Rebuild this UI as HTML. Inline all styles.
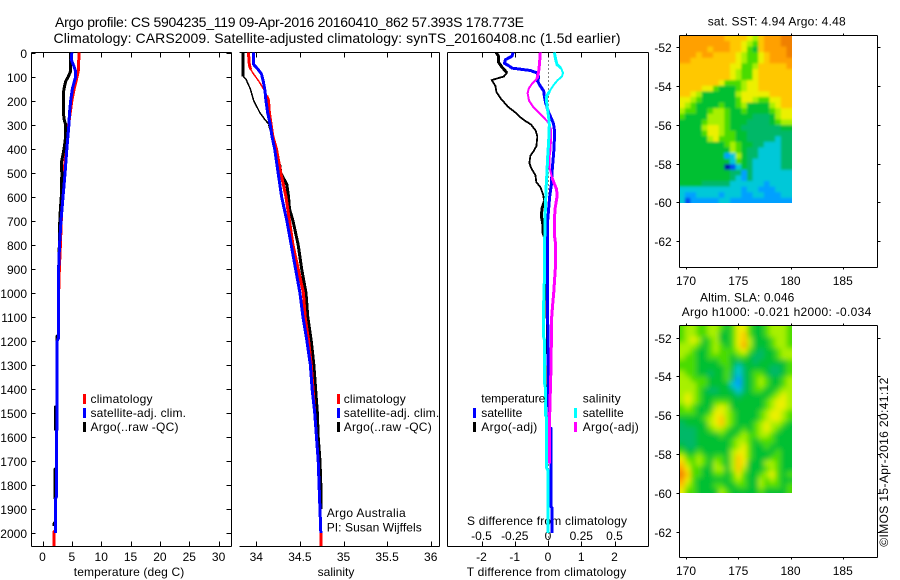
<!DOCTYPE html>
<html lang="en">
<head>
<meta charset="utf-8">
<title>Argo profile</title>
<style>
html,body{margin:0;padding:0;background:#fff}
svg{display:block}
text{font-family:"Liberation Sans",Arial,sans-serif;font-size:12px;fill:#000}
.ttl{font-size:14px}
</style>
</head>
<body>
<svg id="chart" width="900" height="580" viewBox="0 0 900 580" xmlns="http://www.w3.org/2000/svg">
<defs>
<clipPath id="clip-sst"><rect x="679.5" y="35.5" width="112.5" height="167.5"/></clipPath>
<clipPath id="clip-sla"><rect x="679.5" y="325.5" width="112.5" height="167.5"/></clipPath>
<filter id="blur-sst" filterUnits="userSpaceOnUse" x="650" y="10" width="170" height="220"><feGaussianBlur stdDeviation="1.2"/></filter>
<filter id="blur-sla" filterUnits="userSpaceOnUse" x="650" y="300" width="170" height="220"><feGaussianBlur stdDeviation="2.6"/></filter>
</defs>
<text class="ttl" x="55" y="27" textLength="469" lengthAdjust="spacing">Argo profile: CS 5904235_119 09-Apr-2016 20160410_862 57.393S 178.773E</text>
<text class="ttl" x="53.5" y="43" textLength="567" lengthAdjust="spacing">Climatology: CARS2009. Satellite-adjusted climatology: synTS_20160408.nc (1.5d earlier)</text>
<g id="layer"></g>
</svg>
<script>
// ---- depth axis ----
const depthTicks = [0,100,200,300,400,500,600,700,800,900,1000,1100,1200,1300,1400,1500,1600,1700,1800,1900,2000];
const tempTicks = [0,5,10,15,20,25,30];
const salTicks = [34,34.5,35,35.5,36];
const tDiffTicks = [-2,-1,0,1,2];
const sDiffTicks = [-0.5,-0.25,0,0.25,0.5];
const mapLonTicks = [170,175,180,185];
const mapLatTicks = [-52,-54,-56,-58,-60,-62];

// ---- temperature panel ----
const tempClimDepth = [0,70,100,150,200,300,400,450,500,600,700,800,900,1000,1190,1200,1570,1575,1850,1860,1990,1995,2054];
const tempClimValue = [6.2,6.15,5.9,5.4,5.0,4.45,4.1,3.85,3.67,3.4,3.2,3.05,2.87,2.75,2.7,2.5,2.5,2.35,2.35,2.2,2.2,2.0,2.0];
const tempArgoDepth = [0,80,100,120,150,170,250,280,300,350,400,430,460,480,500,600,650,740,800,900,1175,1180,1470,1475,1570,1575,1730,1735,1850,1860,1955,1960,1970];
const tempArgoValue = [4.75,4.75,4.4,3.95,3.67,3.55,3.55,3.7,3.95,3.95,3.67,3.45,3.2,3.2,3.3,3.2,3.05,2.87,2.87,2.75,2.7,2.5,2.5,2.25,2.25,2.35,2.35,2.1,2.1,2.2,2.2,2.0,2.0];
const tempSatDepth = [0,30,60,80,100,150,200,250,300,400,500,600,700,800,900,1000,1190,1200,1570,1575,1850,1860,2000];
const tempSatValue = [5.0,4.9,5.4,5.65,5.65,5.1,4.8,4.6,4.5,4.15,3.85,3.5,3.15,2.9,2.75,2.7,2.7,2.5,2.5,2.35,2.35,2.2,2.2];

// ---- salinity panel ----
const salClimDepth = [0,50,70,90,120,150,180,200,250,300,350,400,500,600,700,800,900,1000,1100,1200,1300,1400,1500,1600,1700,1800,1900,2000,2054];
const salClimValue = [33.91,33.92,33.935,33.97,34.03,34.08,34.12,34.14,34.15,34.17,34.19,34.23,34.28,34.34,34.38,34.42,34.48,34.54,34.56,34.6,34.63,34.65,34.67,34.69,34.71,34.72,34.73,34.74,34.74];
const salArgoDepth = [0,100,110,150,200,250,280,300,350,400,450,470,500,550,600,650,700,800,900,1000,1100,1200,1300,1400,1500,1600,1700,1800,1900];
const salArgoValue = [33.85,33.85,33.88,33.93,33.97,34.04,34.1,34.15,34.19,34.22,34.24,34.27,34.28,34.35,34.37,34.38,34.42,34.48,34.52,34.57,34.59,34.63,34.66,34.68,34.7,34.71,34.73,34.74,34.74];
const salSatDepth = [0,50,70,90,120,160,200,250,300,350,400,500,600,700,800,900,1000,1100,1200,1300,1400,1500,1600,1700,1800,1900,2000];
const salSatValue = [33.97,33.97,34.02,34.06,34.08,34.1,34.11,34.13,34.16,34.18,34.21,34.25,34.29,34.35,34.4,34.45,34.5,34.535,34.58,34.62,34.64,34.67,34.69,34.71,34.72,34.73,34.74];

// ---- difference panel: temperature differences (deg C) ----
const dTArgoDepth = [0,15,40,60,85,100,110,115,140,165,190,225,250,270,285,300,325,350,390,410,430,460,480,510,540,560,590,620,650,680,720,750,800,1050,1200,1400];
const dTArgoValue = [-1.56,-1.49,-1.49,-1.39,-1.23,-1.33,-1.58,-1.69,-1.58,-1.55,-1.43,-1.21,-0.98,-0.83,-0.68,-0.51,-0.37,-0.32,-0.35,-0.43,-0.53,-0.56,-0.51,-0.38,-0.35,-0.23,-0.15,-0.11,-0.18,-0.2,-0.15,-0.15,-0.02,-0.03,-0.01,0.0];
const dTSatDepth = [0,15,30,45,55,65,75,85,100,120,140,160,190,210,250,280,300,330,400,450,500,550,600,650,700,800,1000,1100,1560,1565,1890,1895,2000];
const dTSatValue = [-1.05,-1.08,-1.28,-1.31,-1.18,-1.08,-0.53,-0.33,-0.28,-0.31,-0.23,-0.13,-0.1,-0.07,0.02,0.12,0.17,0.2,0.18,0.15,0.12,0.1,0.05,0.02,-0.01,-0.01,-0.01,-0.01,0.03,0.09,0.09,0.12,0.12];

// ---- difference panel: salinity differences ----
const dSArgoDepth = [0,40,70,85,110,130,150,170,200,225,250,270,290,320,400,440,480,520,540,570,600,650,700,760,800,900,1000,1050,1100,1200,1300,1400,1500,1600,1710];
const dSArgoValue = [-0.058,-0.063,-0.068,-0.073,-0.083,-0.12,-0.145,-0.153,-0.143,-0.113,-0.07,-0.033,0.0,0.023,0.02,0.01,0.012,0.03,0.043,0.065,0.068,0.053,0.048,0.048,0.058,0.055,0.043,0.035,0.028,0.025,0.023,0.018,0.013,0.013,0.013];
const dSSatDepth = [0,30,50,65,85,100,115,135,160,185,220,270,300,370,440,500,550,620,700,800,900,1000,1050,1180,1200,1380,1400,1510,1520,1730,1740,2000];
const dSSatValue = [0.048,0.058,0.068,0.098,0.113,0.105,0.073,0.043,0.013,-0.013,-0.008,0.005,0.01,0.005,-0.003,-0.008,-0.013,-0.018,-0.023,-0.025,-0.025,-0.03,-0.033,-0.035,-0.025,-0.025,-0.018,-0.018,-0.01,-0.01,0.0,0.0];

// ---- map colour levels ----
const sstLevels = [
[10,10,10,10,10,10,10,10,9,9,9,9,8,7,9,10,10,10,11,11],
[10,10,10,10,10,10,10,10,10,9,9,8,7,6,9,10,10,10,11,11],
[10,10,10,10,10,9,10,10,10,9,9,8,6,5,9,10,10,10,10,11],
[10,10,10,9,10,10,9,9,9,9,8,7,6,6,8,9,10,10,10,11],
[10,10,9,9,9,9,9,9,9,9,8,7,6,6,8,9,10,10,10,10],
[9,9,9,9,9,9,9,9,9,8,8,6,6,7,9,9,9,9,9,10],
[9,9,9,9,9,9,9,9,9,8,7,6,6,8,9,9,9,9,9,9],
[9,9,9,9,9,9,9,9,9,8,7,6,6,8,9,9,9,9,9,9],
[9,9,9,9,9,9,9,8,6,6,6,7,8,8,9,9,9,9,9,9],
[9,9,9,9,8,8,6,5,5,5,6,7,8,8,9,9,9,9,9,9],
[9,9,8,7,5,5,5,5,5,5,7,8,8,8,8,8,9,9,9,9],
[8,8,7,6,5,5,5,5,5,5,6,8,8,7,6,6,8,8,9,9],
[8,7,6,5,5,5,5,6,5,5,6,7,5,5,5,5,7,8,9,9],
[7,6,6,5,5,6,7,7,6,5,5,6,5,5,5,5,6,7,8,8],
[6,5,5,5,5,7,7,7,6,5,5,5,5,4,4,4,5,7,8,8],
[5,5,5,5,6,7,7,7,6,5,5,5,4,4,4,4,5,6,7,7],
[5,5,5,5,7,8,8,7,6,5,5,4,4,4,4,4,4,4,5,5],
[5,5,5,5,6,8,8,7,6,6,5,5,4,4,4,4,4,4,4,4],
[5,5,5,5,5,7,8,6,6,6,5,5,4,4,4,4,4,3,4,4],
[5,5,5,5,5,5,5,5,6,7,6,5,5,4,4,3,3,3,4,4],
[5,5,5,5,5,5,5,5,5,7,6,5,4,4,3,3,3,3,4,4],
[5,5,5,5,5,5,5,5,2,3,7,5,4,4,3,3,3,3,4,4],
[5,5,5,5,5,5,5,5,5,3,6,5,4,3,3,3,3,3,4,4],
[5,5,5,5,5,5,5,5,0,1,3,5,4,3,3,3,3,3,4,4],
[5,5,5,5,5,5,5,5,5,4,4,2,4,3,3,3,3,3,3,3],
[5,5,5,5,5,5,5,5,5,4,3,2,4,3,3,3,3,3,3,3],
[5,5,5,5,4,4,4,4,4,3,3,3,3,3,3,2,3,3,3,3],
[3,3,3,3,3,3,3,3,3,3,3,2,3,3,2,2,2,3,3,3],
[3,2,2,3,3,3,3,2,3,3,3,2,2,3,3,2,2,2,3,3],
[3,1,2,2,2,2,2,3,3,2,2,2,2,2,2,2,2,2,2,2]
];
const slaLevels = [
[6,7,7,6,6,7,7,6,5,6,8,8,6,5,5,6,7,7,7,6],
[6,7,7,6,6,7,7,5,5,6,8,9,6,5,5,6,7,7,7,6],
[6,7,8,7,5,6,7,5,5,6,8,9,7,5,5,5,6,7,7,6],
[7,7,7,6,5,6,7,6,5,6,8,10,7,5,5,5,6,7,7,6],
[7,7,6,5,5,6,7,6,6,6,7,8,6,5,4,5,5,6,7,7],
[7,6,6,5,5,6,6,6,6,5,6,6,5,4,4,5,5,6,7,7],
[6,6,6,5,5,5,5,6,6,5,4,5,5,4,5,5,5,5,5,6],
[6,6,6,5,5,5,5,5,6,5,3,4,5,5,5,5,4,4,5,6],
[7,6,6,5,5,4,5,5,6,4,3,4,5,6,6,5,4,4,5,6],
[7,7,6,6,6,5,5,5,6,4,2,4,5,6,7,6,5,5,6,7],
[7,7,7,6,6,5,5,5,5,3,2,4,5,6,7,6,5,5,6,7],
[7,7,7,6,5,4,4,5,5,4,3,4,5,6,6,5,5,6,7,7],
[7,8,7,6,5,5,5,5,5,5,4,5,5,5,5,5,6,7,8,7],
[7,8,7,6,5,5,6,6,6,5,5,5,5,5,5,6,7,8,8,7],
[6,7,6,5,5,5,7,8,7,5,5,5,5,5,5,6,7,8,8,7],
[6,6,6,5,5,6,8,8,7,6,5,5,5,5,6,7,8,8,7,6],
[5,5,5,5,6,7,8,9,7,6,5,5,5,5,6,7,8,8,7,6],
[4,5,5,5,5,7,8,9,7,6,5,5,5,6,7,8,7,7,6,5],
[4,4,4,5,5,6,7,7,6,5,5,6,5,6,7,8,7,6,5,5],
[4,4,4,5,5,5,5,6,5,5,6,7,6,6,7,7,6,5,5,5],
[4,4,4,5,5,5,5,5,5,6,7,7,6,5,6,6,6,5,5,5],
[5,4,4,5,5,5,5,5,5,6,7,8,6,5,5,6,5,5,5,5],
[6,5,5,6,5,5,5,5,5,7,8,8,6,5,5,5,5,6,5,5],
[8,6,6,7,6,5,6,6,5,7,9,8,6,5,5,5,6,6,5,5],
[9,7,6,7,6,5,7,6,5,7,9,8,5,5,5,7,7,6,5,5],
[10,8,6,6,5,5,7,7,5,7,9,7,5,5,5,6,7,6,5,5],
[11,9,6,6,5,5,6,6,5,6,8,6,5,5,6,7,8,6,5,6],
[10,8,6,5,5,5,5,5,5,6,7,6,5,5,7,6,7,6,5,5],
[9,7,6,5,5,5,6,6,5,5,6,6,5,5,7,6,6,6,5,6],
[8,6,6,5,5,5,5,7,6,5,5,5,5,5,6,5,5,5,5,6]
];

// ---- drawing helpers ----
const NS = 'http://www.w3.org/2000/svg';
const layer = document.getElementById('layer');
const palette = ['#0000a8','#0050f0','#00a0ff','#00c8d8','#00b868','#00c030','#48dc00','#a8f000','#ecf000','#ffc800','#ffa000','#f08000'];
const RED='#ff0000', BLUE='#0000ff', BLACK='#000000', CYAN='#00ffff', MAGENTA='#ff00ff';

function mk(tag, parent){
  const el = document.createElementNS(NS, tag);
  (parent || layer).appendChild(el);
  return el;
}
function set(el, attrs){ for (const k in attrs) el.setAttribute(k, attrs[k]); return el; }
function seg(x1,y1,x2,y2,name,parent){
  const el = set(mk('line',parent),{x1,y1,x2,y2,stroke:'#000','stroke-width':1,'shape-rendering':'crispEdges'});
  
  
  return el;
}
function label(x,y,str,anchor,name,len,parent){
  const el = set(mk('text',parent),{x,y,'text-anchor':anchor||'start'});
  el.textContent = str;
  if (len){ el.setAttribute('textLength',len); el.setAttribute('lengthAdjust','spacing'); }
  
  
  return el;
}
function bar(x,y,color,name){
  const el = set(mk('rect'),{x,y,width:3,height:10,fill:color,'shape-rendering':'crispEdges'});
  
  
}
function polyFrom(xs,ds,xf,color,width,name){
  if (ds.length < 2) return;
  const pts = ds.map((d,i)=>xf(xs[i]).toFixed(2)+','+yDepth(d).toFixed(2)).join(' ');
  const el = set(mk('polyline'),{points:pts,fill:'none',stroke:color,'stroke-width':width,'stroke-linejoin':'miter','shape-rendering':'crispEdges'});
  
  
}
// thin = [dFrom,dTo]: part of the profile drawn with a thinner pen, as in the reference
function series(xs,ds,xf,color,width,name,thin){
  if (!thin){ polyFrom(xs,ds,xf,color,width,name); return; }
  const a = ds.map((d,i)=>i).filter(i=>ds[i]<=thin[0]);
  const b = ds.map((d,i)=>i).filter(i=>ds[i]>=thin[0]&&ds[i]<=thin[1]);
  const c = ds.map((d,i)=>i).filter(i=>ds[i]>=thin[1]);
  polyFrom(a.map(i=>xs[i]),a.map(i=>ds[i]),xf,color,width,name);
  polyFrom(b.map(i=>xs[i]),b.map(i=>ds[i]),xf,color,thin[2],name);
  polyFrom(c.map(i=>xs[i]),c.map(i=>ds[i]),xf,color,width,name);
}

// ---- axis functions ----
const TOP=52.5, BOT=546.5;
const yDepth = d => TOP + 0.24025*d;
const xTemp = v => 42.5 + 5.87*v;
const xSal = v => 256.3 + 87.2*(v-34);
const xDT = v => 548 + 33.25*v;
const xDS = v => 548 + 133*v;
const lonX = v => 686 + 10.45*(v-170);
const sstLatY = v => 47 + 19.43*(-52-v);
const slaLatY = v => 337.5 + 19.45*(-52-v);

// ---- temperature panel frame ----
seg(31.5,TOP,231.5,TOP,'temperature-panel-top');
seg(31.5,BOT,231.5,BOT,'temperature-x-axis');
seg(31.5,TOP,31.5,BOT,'depth-y-axis');
seg(231.5,TOP,231.5,BOT,'temperature-panel-right');
depthTicks.forEach(d=>{
  const y = Math.round(yDepth(d))+0.5;
  seg(31.5,y,35.5,y,'depth-tick');
  seg(226.5,y,231.5,y,'depth-tick-right');
  label(27,y+4.5,String(d),'end','depth-tick-label');
});
tempTicks.forEach(v=>{
  const x = Math.round(xTemp(v))+0.5;
  seg(x,TOP,x,TOP+5,'temperature-tick-top');
  seg(x,BOT-5,x,BOT,'temperature-tick');
  label(xTemp(v),561,String(v),'middle','temperature-tick-label');
});
label(129,576,'temperature (deg C)','middle','temperature-axis-title',110.5);

// ---- salinity panel frame ----
seg(239.5,TOP,439.5,TOP,'salinity-panel-top');
seg(239.5,BOT,439.5,BOT,'salinity-x-axis');
seg(439.5,TOP,439.5,BOT,'salinity-panel-right');
salTicks.forEach(v=>{
  const x = Math.round(xSal(v))+0.5;
  seg(x,TOP,x,TOP+5,'salinity-tick-top');
  seg(x,BOT-5,x,BOT,'salinity-tick');
  label(xSal(v),561,String(v),'middle','salinity-tick-label');
});
label(336,576,'salinity','middle','salinity-axis-title');

// ---- difference panel frame ----
seg(447.5,TOP,648.5,TOP,'difference-panel-top');
seg(447.5,BOT,648.5,BOT,'difference-x-axis');
seg(447.5,TOP,447.5,BOT,'difference-panel-left');
seg(648.5,TOP,648.5,BOT,'difference-panel-right');
tDiffTicks.forEach(v=>{
  const x = Math.round(xDT(v))+0.5;
  seg(x,TOP,x,TOP+5,'t-difference-tick-top');
  seg(x,BOT-5,x,BOT,'t-difference-tick');
  label(xDT(v),561,String(v),'middle','t-difference-tick-label');
});
sDiffTicks.forEach(v=>{
  label(xDS(v),540,String(v),'middle','s-difference-tick-label');
});
label(466.7,576,'T difference from climatology','start','t-difference-axis-title',159.5);
label(467,525,'S difference from climatology','start','s-difference-axis-title',160);
const zero = set(mk('line'),{x1:548.5,y1:TOP,x2:548.5,y2:BOT,stroke:'#000','stroke-width':1,'stroke-dasharray':'1 3','shape-rendering':'crispEdges'});



// ---- series ----
series(tempClimValue,tempClimDepth,xTemp,RED,3,'temperature-climatology-line');
series(tempArgoValue,tempArgoDepth,xTemp,BLACK,3,'temperature-argo-line');
series(tempSatValue,tempSatDepth,xTemp,BLUE,3,'temperature-satellite-line');
series(salArgoValue,salArgoDepth,xSal,BLACK,3,'salinity-argo-line',[100,300,1.5]);
series(salClimValue,salClimDepth,xSal,RED,3,'salinity-climatology-line',[70,180,1.5]);
series(salSatValue,salSatDepth,xSal,BLUE,3,'salinity-satellite-line');
series(dTArgoValue,dTArgoDepth,xDT,BLACK,3,'t-difference-argo-line',[85,620,1.8]);
series(dTSatValue,dTSatDepth,xDT,BLUE,3,'t-difference-satellite-line');
series(dSArgoValue,dSArgoDepth,xDS,MAGENTA,3,'s-difference-argo-line',[110,520,2]);
series(dSSatValue,dSSatDepth,xDS,CYAN,3,'s-difference-satellite-line',[65,160,2]);

// ---- legends ----
bar(83,394,RED,'legend-swatch-climatology');
bar(83,408,BLUE,'legend-swatch-satellite');
bar(83,422,BLACK,'legend-swatch-argo');
label(90.5,403,'climatology','start','legend-climatology',62);
label(90.5,417,'satellite-adj. clim.','start','legend-satellite',95.5);
label(90.5,431,'Argo(..raw -QC)','start','legend-argo',88);
bar(337,394,RED,'legend-swatch-climatology');
bar(337,408,BLUE,'legend-swatch-satellite');
bar(337,422,BLACK,'legend-swatch-argo');
label(343.7,403,'climatology','start','legend-climatology',62);
label(343.7,417,'satellite-adj. clim.','start','legend-satellite',95.5);
label(343.7,431,'Argo(..raw -QC)','start','legend-argo',88);
label(326.7,517,'Argo Australia','start','operator-label',79);
label(326.7,531.7,'PI: Susan Wijffels','start','pi-label',95);
label(481.3,402.7,'temperature','start','legend-temperature-heading',64);
label(481.3,417,'satellite','start','legend-temperature-satellite',41);
label(481.3,431,'Argo(-adj)','start','legend-temperature-argo',56);
bar(473,408,BLUE,'legend-swatch-t-satellite');
bar(473,422,BLACK,'legend-swatch-t-argo');
label(582.7,402.7,'salinity','start','legend-salinity-heading',38);
label(582.7,417,'satellite','start','legend-salinity-satellite',41);
label(582.7,431,'Argo(-adj)','start','legend-salinity-argo',56);
bar(574,408,CYAN,'legend-swatch-s-satellite');
bar(574,422,MAGENTA,'legend-swatch-s-argo');

// ---- maps ----
const imgLonW = 169.35, imgLonE = 180.15;
function drawMap(grid,latY,top,bot,latN,latS,clipId,blurId,name){
  const clip = mk('g');
  clip.setAttribute('clip-path','url(#'+clipId+')');
  
  
  const g = mk('g',clip);
  g.setAttribute('filter','url(#'+blurId+')');
  const nr = grid.length, nc = grid[0].length;
  const dLon = (imgLonE-imgLonW)/nc, dLat = (latN-latS)/nr;
  grid.forEach((row,r)=>row.forEach((lvl,c)=>{
    const x0 = lonX(imgLonW+c*dLon), x1 = lonX(imgLonW+(c+1)*dLon);
    const y0 = latY(latN-r*dLat), y1 = latY(latN-(r+1)*dLat);
    const ex0 = c===0?12:0, ex1 = c===nc-1?12:0, ey0 = r===0?12:0, ey1 = r===nr-1?12:0;
    const cell = set(mk('rect',g),{x:(x0-ex0).toFixed(2),y:(y0-ey0).toFixed(2),width:(x1-x0+ex0+ex1+0.4).toFixed(2),height:(y1-y0+ey0+ey1+0.4).toFixed(2),fill:palette[lvl]});
    
    
  }));
  seg(679.5,top,877.5,top,name+'-top');
  seg(679.5,bot,877.5,bot,name+'-x-axis');
  seg(679.5,top,679.5,bot,name+'-y-axis');
  seg(877.5,top,877.5,bot,name+'-right');
  mapLonTicks.forEach(v=>{
    const x = Math.round(lonX(v))+0.5;
    seg(x,top-2,x,top,name+'-lon-tick-top');
    seg(x,bot,x,bot+2,name+'-lon-tick');
    label(lonX(v),bot+17.5,String(v),'middle',name+'-lon-tick-label');
  });
  mapLatTicks.forEach(v=>{
    const y = Math.round(latY(v))+0.5;
    seg(676.5,y,679.5,y,name+'-lat-tick');
    seg(877.5,y,880.5,y,name+'-lat-tick-right');
    label(671.7,y+4.5,String(v),'end',name+'-lat-tick-label');
  });
}
drawMap(sstLevels,sstLatY,35.5,267.5,-51.4,-60.05,'clip-sst','blur-sst','sst-map');
drawMap(slaLevels,slaLatY,325.5,557.5,-51.4,-60.05,'clip-sla','blur-sla','sla-map');
label(707.7,25.7,'sat. SST: 4.94  Argo: 4.48','start','sst-map-title',138);
label(700,301.7,'Altim. SLA: 0.046','start','sla-map-title',94.3);
label(681.7,316,'Argo h1000: -0.021 h2000: -0.034','start','sla-map-subtitle',189.6);
const stamp = set(mk('text'),{x:0,y:0,transform:'translate(888,546.7) rotate(-90)',textLength:169,lengthAdjust:'spacing'});
stamp.textContent = '©IMOS 15-Apr-2016 20:41:12';


</script>
</body>
</html>
